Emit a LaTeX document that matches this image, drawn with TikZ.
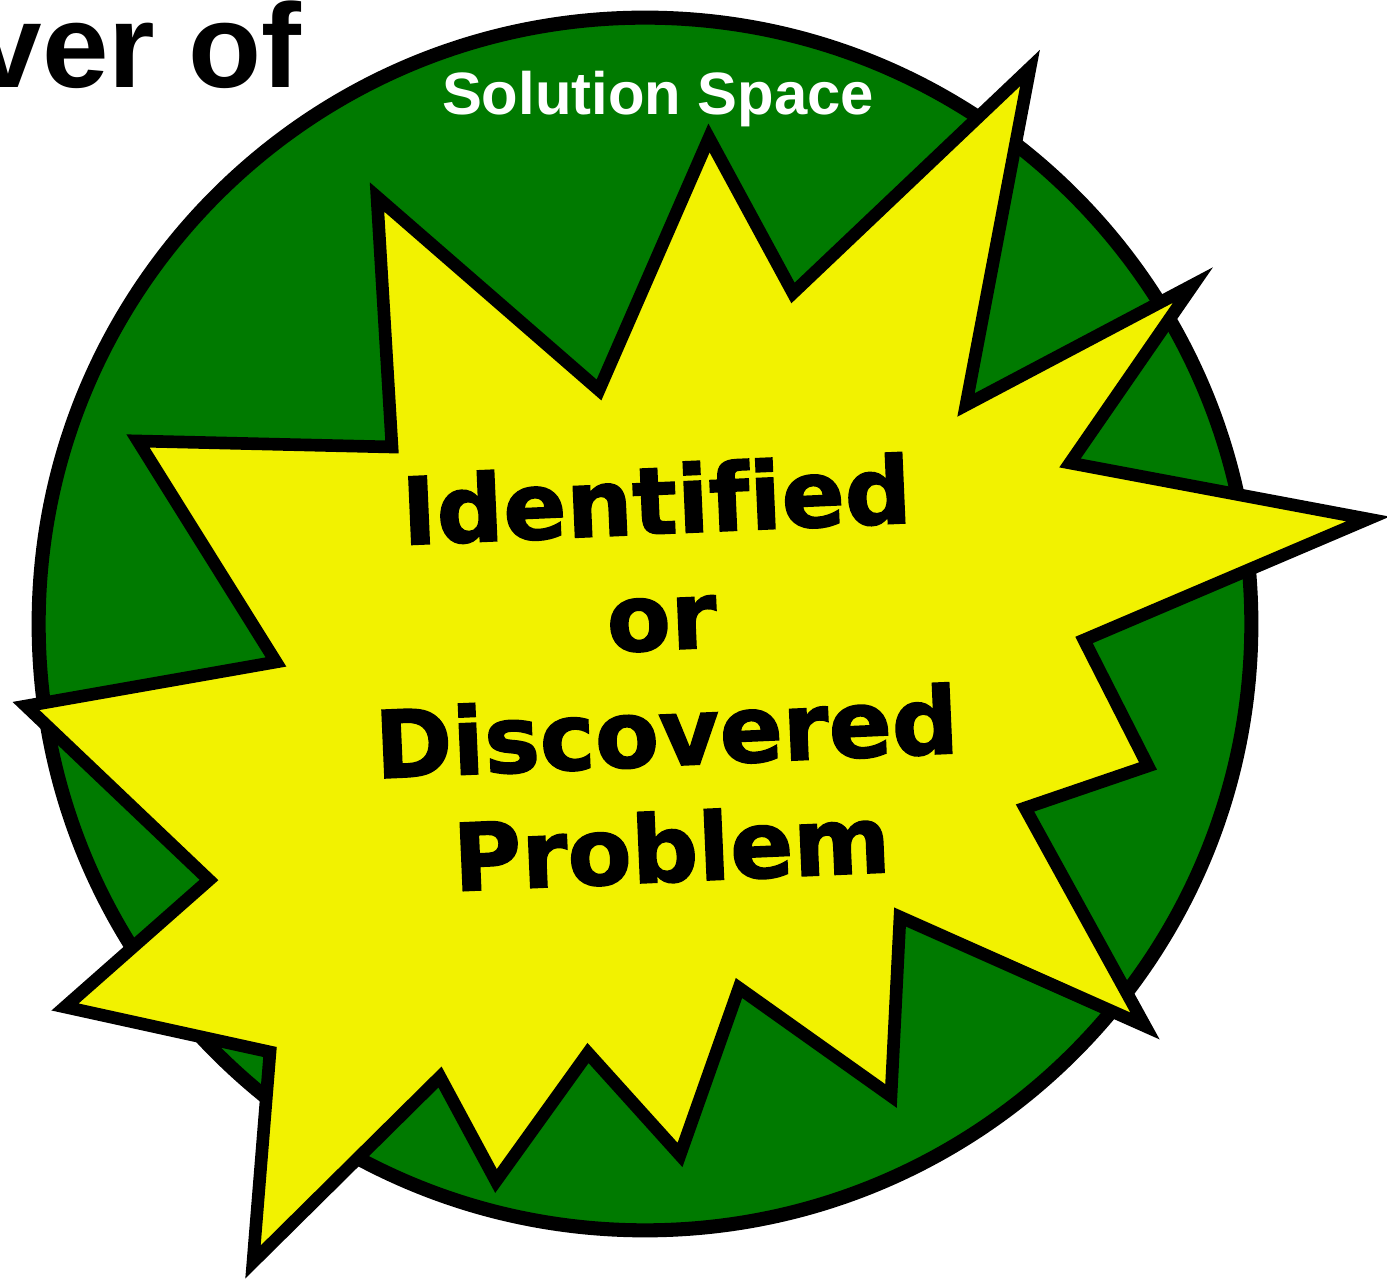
\documentclass[tikz,border=0pt]{standalone}
\usepackage{fontspec}
\setmainfont{Liberation Sans}
\newfontfamily\heavyfont[Ligatures=NoCommon, BoldFeatures={FakeBold=1.6}]{DejaVu Sans}
\usetikzlibrary{positioning}
\definecolor{spacegreen}{RGB}{0,122,0}
\definecolor{burstyellow}{RGB}{242,242,0}

\begin{document}
\begin{tikzpicture}[x=0.01cm, y=-0.01cm, every node/.style={inner sep=0pt},
  burst/.style={fill=burstyellow, draw=black, line width=3.6pt, line join=miter, miter limit=20}]
\useasboundingbox (0,0) rectangle (1387,1283);
% solution space
\draw[fill=spacegreen, line width=4pt] (645,624) circle[radius=6.06cm];
% the burst
\draw[burst] (709,138) -- (793,293) -- (1030,68) -- (966,405) -- (1193,285) -- (1070,463)
  -- (1368,519) -- (1084,640) -- (1148,766) -- (1025,808) -- (1145,1026) -- (900,917)
  -- (891,1096) -- (739,988) -- (680,1155) -- (588,1053) -- (496,1181) -- (440,1077)
  -- (253,1262) -- (270,1052) -- (65,1007) -- (209,880) -- (26,706) -- (276,662)
  -- (138,441) -- (392,447) -- (377,197) -- (599,390) -- cycle;
\node[text=white, font=\bfseries\fontsize{17}{20}\selectfont, anchor=base] (space) at (658,115) {Solution Space};
\node[font=\heavyfont\bfseries\fontsize{26.5}{33}\selectfont, align=center, rotate=2.5] (problem) at (664,673) {Identified\\or\\Discovered\\Problem};
% cut-off title
\node[anchor=base east, font=\bfseries\fontsize{34}{40}\selectfont] (title) at (302,88) {ver of};
\end{tikzpicture}
\end{document}
